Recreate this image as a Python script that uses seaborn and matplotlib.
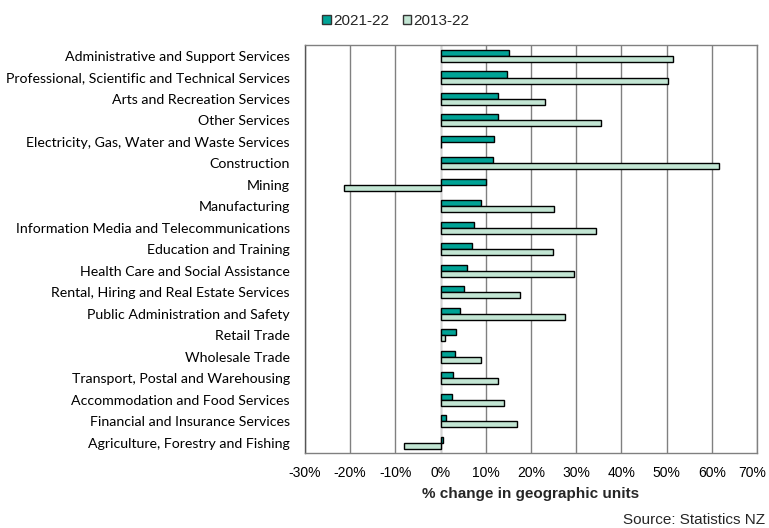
import matplotlib
matplotlib.use("Agg")
import matplotlib.pyplot as plt
from matplotlib.patches import Patch
from matplotlib.ticker import FuncFormatter, MultipleLocator
import pandas as pd
import seaborn as sns

# Industries, ordered as listed on the chart
industries = [
    "Administrative and Support Services",
    "Professional, Scientific and Technical Services",
    "Arts and Recreation Services",
    "Other Services",
    "Electricity, Gas, Water and Waste Services",
    "Construction",
    "Mining",
    "Manufacturing",
    "Information Media and Telecommunications",
    "Education and Training",
    "Health Care and Social Assistance",
    "Rental, Hiring and Real Estate Services",
    "Public Administration and Safety",
    "Retail Trade",
    "Wholesale Trade",
    "Transport, Postal and Warehousing",
    "Accommodation and Food Services",
    "Financial and Insurance Services",
    "Agriculture, Forestry and Fishing",
]

# Percentage change in geographic units
change_2021_22 = [15.2, 14.8, 12.6, 12.6, 11.8, 11.6, 10.0, 9.0, 7.5, 6.9,
                  5.9, 5.2, 4.2, 3.5, 3.2, 2.8, 2.6, 1.2, 0.5]
change_2013_22 = [51.4, 50.2, 23.0, 35.5, 0.0, 61.5, -21.4, 25.1, 34.4, 24.9,
                  29.5, 17.6, 27.5, 1.0, 8.9, 12.6, 14.1, 16.8, -8.1]

periods = ["2021-22", "2013-22"]
period_colors = ["#00A396", "#C2E5D3"]

x_min, x_max = -30, 70

df = pd.concat([
    pd.DataFrame({"Industry": industries, "Period": periods[0], "Change": change_2021_22}),
    pd.DataFrame({"Industry": industries, "Period": periods[1], "Change": change_2013_22}),
])

sns.set_theme(style="white")
plt.rcParams["font.family"] = ["Liberation Sans", "DejaVu Sans"]

fig = plt.figure(figsize=(7.69, 5.28), dpi=100)
ax = fig.add_axes([0.3966, 0.1415, 0.9844 - 0.3966, 0.9142 - 0.1415])

sns.barplot(
    data=df, x="Change", y="Industry", hue="Period",
    order=industries, hue_order=periods, palette=period_colors,
    orient="h", width=0.56, dodge=True, errorbar=None,
    edgecolor="black", linewidth=1.0, saturation=1, ax=ax, legend=False,
    zorder=3,
)


def pct(v):
    return f"{v:.0f}%"


ax.set_xlim(x_min, x_max)
ax.xaxis.set_major_locator(MultipleLocator(10))
# The rightmost label sits on the figure edge; it is drawn separately below
ax.xaxis.set_major_formatter(FuncFormatter(lambda v, _: "" if v >= x_max else pct(v)))
ax.grid(axis="x", color="#808080", linewidth=1.0, zorder=0)
ax.axvline(0, color="#E6E6E6", linewidth=1.2, zorder=2)
ax.set_axisbelow(True)

for side in ["top", "right", "bottom"]:
    ax.spines[side].set_color("#808080")
    ax.spines[side].set_linewidth(1.0)
ax.spines["left"].set_color("#555555")
ax.spines["left"].set_linewidth(1.0)

ax.tick_params(axis="x", length=0, pad=9, labelsize=10, colors="black")
ax.tick_params(axis="y", length=0, pad=11, colors="black")
for lbl in ax.get_yticklabels():
    lbl.set_fontfamily(["Lato", "DejaVu Sans"])
    lbl.set_fontsize(10.2)

# Last x tick label, nudged inward so it stays within the figure
ax.annotate(pct(x_max), xy=(x_max, 0), xycoords=("data", "axes fraction"),
            xytext=(-5, -12.5), textcoords="offset pixels",
            ha="center", va="top", fontsize=10, color="black")

ax.set_ylabel("")
ax.set_xlabel("% change in geographic units", fontsize=11, fontweight="bold", labelpad=5)

handles = [Patch(facecolor=c, edgecolor="#333333", linewidth=1.0) for c in period_colors]
fig.legend(
    handles, periods, loc="center", bbox_to_anchor=(396 / 769, 1 - 21 / 528),
    ncol=2, frameon=False, fontsize=11, handlelength=0.55, handleheight=0.55,
    handletextpad=0.15, columnspacing=0.9, borderaxespad=0,
)

fig.text(765 / 769, 1 - 520 / 528, "Source: Statistics NZ", ha="right", va="center",
         fontsize=11)

fig.savefig("out.png", dpi=100)
